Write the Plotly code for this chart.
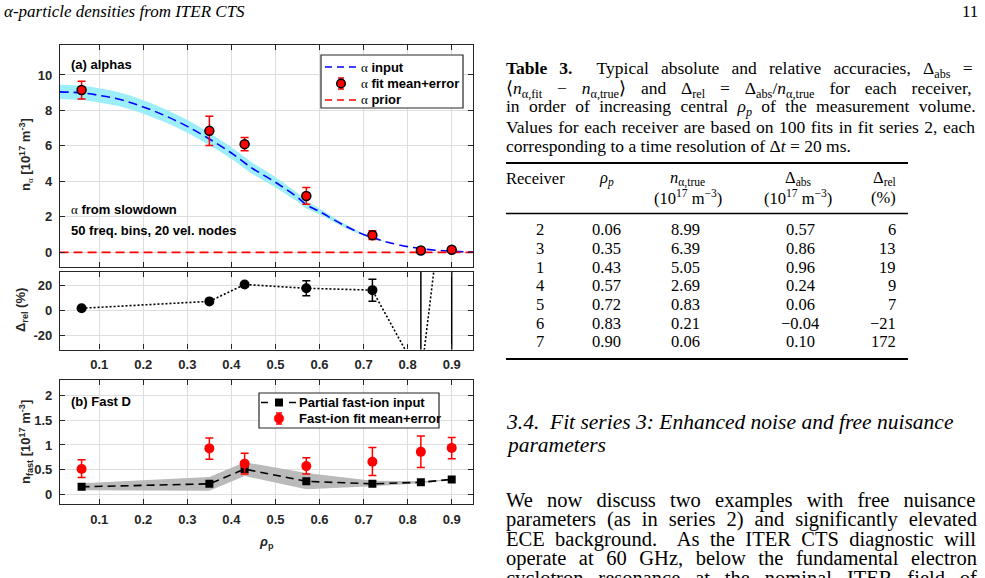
import re
import plotly.graph_objects as go

# ---------------- data ----------------
rho_curve = [0.01, 0.06, 0.10, 0.15, 0.20, 0.25, 0.30, 0.35, 0.40, 0.43, 0.45, 0.50,
             0.55, 0.57, 0.60, 0.65, 0.70, 0.72, 0.75, 0.80, 0.83, 0.85, 0.90, 0.95]
n_alpha_input = [9.05, 8.99, 8.85, 8.60, 8.20, 7.70, 7.10, 6.39, 5.60, 5.05, 4.70, 3.95,
                 3.10, 2.69, 2.30, 1.60, 1.00, 0.83, 0.60, 0.32, 0.21, 0.15, 0.06, 0.02]
n_alpha_band = [0.40, 0.40, 0.40, 0.39, 0.38, 0.37, 0.36, 0.34, 0.33, 0.32, 0.31, 0.29,
                0.24, 0.22, 0.17, 0.11, 0.05, 0.03, 0.01, 0.0, 0.0, 0.0, 0.0, 0.0]
n_alpha_prior = [0.0] * len(rho_curve)

rho_rx = [0.06, 0.35, 0.43, 0.57, 0.72, 0.83, 0.90]
n_alpha_fit = [9.15, 6.85, 6.10, 3.18, 0.97, 0.10, 0.15]
n_alpha_err = [0.50, 0.82, 0.37, 0.47, 0.25, 0.07, 0.08]

delta_rel = [2.0, 7.5, 21.0, 18.0, 16.5, -54.0, 150.0]
delta_rel_err = [1.0, 1.0, 1.5, 6.0, 8.8, 150.0, 250.0]

n_fast_input = [0.15, 0.21, 0.51, 0.26, 0.21, 0.24, 0.30]
n_fast_lo = [0.08, 0.07, 0.37, 0.10, 0.16, 0.22, 0.29]
n_fast_hi = [0.22, 0.35, 0.65, 0.43, 0.27, 0.26, 0.31]
n_fast_fit = [0.51, 0.93, 0.62, 0.57, 0.66, 0.86, 0.94]
n_fast_err_plus = [0.19, 0.21, 0.21, 0.17, 0.29, 0.32, 0.21]
n_fast_err_minus = [0.17, 0.22, 0.21, 0.16, 0.28, 0.32, 0.22]

x_tickvals = [0.1, 0.2, 0.3, 0.4, 0.5, 0.6, 0.7, 0.8, 0.9]
x_ticktext = ["0.1", "0.2", "0.3", "0.4", "0.5", "0.6", "0.7", "0.8", "0.9"]
ya_tickvals = [0, 2, 4, 6, 8, 10]
yr_tickvals = [-20, 0, 20]
yr_ticktext = ["-20", "0", "20"]
yb_tickvals = [0, 0.5, 1, 1.5, 2]
yb_ticktext = ["0", "0.5", "1", "1.5", "2"]

legend_a_labels = ["input", "fit mean+error", "prior"]
legend_b_labels = ["Partial fast-ion input", "Fast-ion fit mean+error"]

# table data
tbl_receiver = [2, 3, 1, 4, 5, 6, 7]
tbl_rho = [0.06, 0.35, 0.43, 0.57, 0.72, 0.83, 0.90]
tbl_ntrue = [8.99, 6.39, 5.05, 2.69, 0.83, 0.21, 0.06]
tbl_dabs = [0.57, 0.86, 0.96, 0.24, 0.06, -0.04, 0.10]
tbl_drel = [6, 13, 19, 9, 7, -21, 172]

# ---------------- helpers ----------------
W, H = 985, 578
def px(x): return x / W
def py(y): return 1 - y / H

SANS = "Liberation Sans"
SERIF = "Liberation Serif"
AXC = "#262626"
GRID = "#dedede"
ALPHA = "<span style=\"font-family:'Liberation Serif';font-weight:normal\">α</span>"

TM = {}
for c, v in zip("abcdefghijklmnopqrstuvwxyz",
                [444,500,444,500,444,333,500,500,278,278,500,278,778,500,500,500,500,333,389,278,500,500,722,500,500,444]):
    TM[c] = v
for c, v in zip("ABCDEFGHIJKLMNOPQRSTUVWXYZ",
                [722,667,667,722,611,556,722,722,333,389,722,611,889,722,722,556,722,667,556,611,722,722,944,722,722,611]):
    TM[c] = v
for c in "0123456789":
    TM[c] = 500
TM.update({" ": 250, "\u00a0": 250, ".": 250, ",": 250, ":": 278, ";": 278, "(": 333, ")": 333,
           "-": 333, "=": 564, "+": 564, "/": 278, "%": 833, "α": 600, "ρ": 560, "Δ": 680,
           "−": 600, "⟨": 400, "⟩": 400})

def text_width(s, size):
    w = 0.0
    scale = 1.0
    bold = False
    for tok in re.findall(r"<[^>]+>|[^<]+", s):
        if tok.startswith("<"):
            closing = tok.startswith("</")
            inner = tok.strip("</>")
            name = inner.split()[0].lower() if inner else ""
            if name in ("sub", "sup"):
                scale = 1.0 if closing else 0.7
            elif name == "b":
                bold = not closing
        else:
            for ch in tok:
                w += TM.get(ch, 500) / 1000.0 * scale * (1.06 if bold else 1.0)
    return w * size

def plain(s):
    return re.sub(r"<[^>]+>", "", s)

annotations = []
shapes = []

def text_ann(text, x, y, size, family=SERIF, xanchor="left", color="black", weight="normal",
             angle=0, yanchor="middle"):
    annotations.append(dict(text=text, x=px(x), y=py(y), xref="paper", yref="paper",
                            xanchor=xanchor, yanchor=yanchor, showarrow=False, textangle=angle,
                            borderpad=0, borderwidth=0,
                            font=dict(family=family, size=size, color=color, weight=weight)))

def justified(text, x0, x1, y, size):
    nat = text_width(text, size)
    p = plain(text)
    nsp = p.count(" ") + p.count("\u00a0")
    ws = (x1 - x0 - nat) / max(nsp, 1)
    text_ann("<span style='word-spacing:%.2fpx'>%s</span>" % (ws, text), x0, y, size)

def hline(x0, x1, y, color, width, dash="solid"):
    shapes.append(dict(type="line", xref="paper", yref="paper", x0=px(x0), x1=px(x1),
                       y0=py(y), y1=py(y), line=dict(color=color, width=width, dash=dash)))

def vline(x, y0, y1, color, width):
    shapes.append(dict(type="line", xref="paper", yref="paper", x0=px(x), x1=px(x),
                       y0=py(y0), y1=py(y1), line=dict(color=color, width=width)))

def rect(x0, y0, x1, y1, line_color, fill, lw=1):
    shapes.append(dict(type="rect", xref="paper", yref="paper", x0=px(x0), x1=px(x1),
                       y0=py(y1), y1=py(y0), line=dict(color=line_color, width=lw), fillcolor=fill))

def circle(cx, cy, r, fill, line_color, lw):
    shapes.append(dict(type="circle", xref="paper", yref="paper", x0=px(cx - r), x1=px(cx + r),
                       y0=py(cy + r), y1=py(cy - r), fillcolor=fill,
                       line=dict(color=line_color, width=lw)))

def errbar_glyph(cx, cy, half, color):
    vline(cx, cy - half, cy + half, color, 1.5)
    hline(cx - 3, cx + 3, cy - half, color, 1.5)
    hline(cx - 3, cx + 3, cy + half, color, 1.5)

# ---------------- figure ----------------
fig = go.Figure()

band_up = [a + b for a, b in zip(n_alpha_input, n_alpha_band)]
band_dn = [a - b for a, b in zip(n_alpha_input, n_alpha_band)]
fig.add_trace(go.Scatter(x=rho_curve, y=band_up, mode="lines", line=dict(width=0, shape="spline"),
                         hoverinfo="skip", xaxis="x", yaxis="y"))
fig.add_trace(go.Scatter(x=rho_curve, y=band_dn, mode="lines", line=dict(width=0, shape="spline"),
                         fill="tonexty", fillcolor="rgb(155,238,250)",
                         hoverinfo="skip", xaxis="x", yaxis="y"))
fig.add_trace(go.Scatter(x=rho_curve, y=n_alpha_input, mode="lines", name="α input",
                         line=dict(color="#0000ff", width=1.6, dash="9px,5px", shape="spline"),
                         xaxis="x", yaxis="y"))
fig.add_trace(go.Scatter(x=rho_curve, y=n_alpha_prior, mode="lines", name="α prior",
                         line=dict(color="#ff0000", width=1.6, dash="9px,5px"),
                         xaxis="x", yaxis="y"))
fig.add_trace(go.Scatter(x=rho_rx, y=n_alpha_fit, mode="markers", name="α fit mean+error",
                         marker=dict(color="#ff0000", size=9, line=dict(color="black", width=1.5)),
                         error_y=dict(type="data", array=n_alpha_err, color="#ff0000", thickness=1.5, width=4),
                         xaxis="x", yaxis="y"))

fig.add_trace(go.Scatter(x=rho_rx, y=delta_rel, mode="lines+markers",
                         line=dict(color="black", width=1.6, dash="2px,2px"),
                         marker=dict(color="black", size=10),
                         error_y=dict(type="data", array=delta_rel_err, color="black", thickness=1.5, width=4),
                         xaxis="x2", yaxis="y2"))

fig.add_trace(go.Scatter(x=rho_rx, y=n_fast_hi, mode="lines", line=dict(width=0),
                         hoverinfo="skip", xaxis="x3", yaxis="y3"))
fig.add_trace(go.Scatter(x=rho_rx, y=n_fast_lo, mode="lines", line=dict(width=0), fill="tonexty",
                         fillcolor="rgb(186,186,186)", hoverinfo="skip",
                         xaxis="x3", yaxis="y3"))
fig.add_trace(go.Scatter(x=rho_rx, y=n_fast_input, mode="lines+markers", name="Partial fast-ion input",
                         line=dict(color="black", width=1.6, dash="8px,5px"),
                         marker=dict(color="black", symbol="square", size=8),
                         xaxis="x3", yaxis="y3"))
fig.add_trace(go.Scatter(x=rho_rx, y=n_fast_fit, mode="markers", name="Fast-ion fit mean+error",
                         marker=dict(color="#ff0000", size=10),
                         error_y=dict(type="data", array=n_fast_err_plus, arrayminus=n_fast_err_minus,
                                      color="#ff0000", thickness=1.5, width=4),
                         xaxis="x3", yaxis="y3"))

tickfont = dict(family=SANS, size=13, color=AXC, weight="bold")
xcommon = dict(range=[0.011, 0.949], tickvals=x_tickvals, ticktext=x_ticktext, showgrid=True,
               gridcolor=GRID, gridwidth=1, zeroline=False, showline=True, linecolor=AXC, linewidth=1.3,
               mirror="ticks", ticks="inside", ticklen=5, tickwidth=1.3, tickcolor=AXC,
               tickfont=tickfont, domain=[px(60), px(473.3)], ticklabelstandoff=3)
ycommon = dict(showgrid=True, gridcolor=GRID, gridwidth=1, zeroline=False, showline=True,
               linecolor=AXC, linewidth=1.3, mirror="ticks", ticks="inside", ticklen=5,
               tickwidth=1.3, tickcolor=AXC, tickfont=tickfont, ticklabelstandoff=4)

fig.update_layout(
    width=W, height=H, margin=dict(l=0, r=0, t=0, b=0),
    paper_bgcolor="white", plot_bgcolor="white", showlegend=False,
    xaxis=dict(xcommon, anchor="y", showticklabels=False),
    xaxis2=dict(xcommon, anchor="y2"),
    xaxis3=dict(xcommon, anchor="y3"),
    yaxis=dict(ycommon, domain=[py(266.7), py(45)], range=[-0.81, 11.69], tickvals=ya_tickvals, anchor="x"),
    yaxis2=dict(ycommon, domain=[py(349.5), py(271.5)], range=[-31.0, 31.4], tickvals=yr_tickvals,
                ticktext=yr_ticktext, anchor="x2"),
    yaxis3=dict(ycommon, domain=[py(504), py(380)], range=[-0.2, 2.32], tickvals=yb_tickvals,
                ticktext=yb_ticktext, anchor="x3"),
)

# ---- legend (a), drawn as a MATLAB-style box ----
LF = 13
rect(321, 55, 463, 108, AXC, "white", 1.2)
la_y = [67, 83.5, 100]
hline(325, 360, la_y[0], "#0000ff", 1.6, "7px,5px")
errbar_glyph(341, la_y[1], 5.5, "#ff0000")
circle(341, la_y[1], 4.3, "#ff0000", "black", 1.5)
hline(325, 360, la_y[2], "#ff0000", 1.6, "7px,5px")
for lbl, yy in zip(legend_a_labels, la_y):
    text_ann(ALPHA + " " + lbl, 361, yy, LF, SANS, weight="bold")

# ---- legend (b) ----
rect(259, 393, 439, 428, AXC, "white", 1.2)
lb_y = [402.5, 418.5]
hline(261, 297, lb_y[0], "black", 1.6, "7px,7px")
shapes.append(dict(type="rect", xref="paper", yref="paper", x0=px(275), x1=px(283),
                   y0=py(lb_y[0] + 4), y1=py(lb_y[0] - 4), fillcolor="black", line=dict(width=0)))
errbar_glyph(279, lb_y[1], 5.5, "#ff0000")
circle(279, lb_y[1], 4.8, "#ff0000", "#ff0000", 0.5)
for lbl, yy in zip(legend_b_labels, lb_y):
    text_ann(lbl, 299, yy, LF, SANS, weight="bold")

# chart annotations
text_ann("(a) alphas", 71, 64, 13, SANS, weight="bold")
text_ann(ALPHA + " from slowdown", 71, 209, 13, SANS, weight="bold")
text_ann("50 freq. bins, 20 vel. nodes", 71, 230, 13, SANS, weight="bold")
text_ann("(b) Fast D", 71, 401, 13, SANS, weight="bold")
text_ann("n<sub>" + ALPHA + "</sub> [10<sup>17</sup> m<sup>-3</sup>]", 26, 155, 13, SANS,
         xanchor="center", weight="bold", angle=-90, color=AXC)
text_ann("Δ<sub>rel</sub> (%)", 21, 310, 13, SANS, xanchor="center", weight="bold", angle=-90, color=AXC)
text_ann("n<sub>fast</sub> [10<sup>17</sup> m<sup>-3</sup>]", 26, 442, 13, SANS,
         xanchor="center", weight="bold", angle=-90, color=AXC)
text_ann("<i>ρ</i><sub>p</sub>", 266, 542, 13, SANS, xanchor="center", weight="bold", color=AXC)

# page header
text_ann("<i>α-particle densities from ITER CTS</i>", 4, 12, 17)
text_ann("11", 978, 12, 17, xanchor="right")

# caption
XL, XR = 506, 977
CAP = 17.5
justified("<b>Table 3.</b>\u00a0 Typical absolute and relative accuracies, Δ<sub>abs</sub> =", XL, XR, 70, CAP)
justified("⟨<i>n</i><sub>α,fit</sub> − <i>n</i><sub>α,true</sub>⟩ and Δ<sub>rel</sub> = "
          "Δ<sub>abs</sub>/<i>n</i><sub>α,true</sub> for each receiver,", XL, XR, 89, CAP)
justified("in order of increasing central <i>ρ</i><sub><i>p</i></sub> of the measurement volume.", XL, XR, 108, CAP)
justified("Values for each receiver are based on 100 fits in fit series 2, each", XL, XR, 127, CAP)
text_ann("corresponding to a time resolution of Δ<i>t</i> = 20 ms.", XL, 146, CAP)

# table
TS = 16.5
for yy, lw in [(163, 2.2), (213.5, 1.3), (359, 2.2)]:
    hline(506, 908, yy, "black", lw)
text_ann("Receiver", 506, 178, TS)
text_ann("<i>ρ</i><sub><i>p</i></sub>", 606, 178, TS, xanchor="center")
text_ann("<i>n</i><sub>α,true</sub>", 687, 178, TS, xanchor="center")
text_ann("(10<sup>17</sup> m<sup>−3</sup>)", 688, 198, TS, xanchor="center")
text_ann("Δ<sub>abs</sub>", 798, 178, TS, xanchor="center")
text_ann("(10<sup>17</sup> m<sup>−3</sup>)", 798, 198, TS, xanchor="center")
text_ann("Δ<sub>rel</sub>", 896, 178, TS, xanchor="right")
text_ann("(%)", 896, 198, TS, xanchor="right")
row_y = [229.3, 248.3, 267.0, 285.5, 304.3, 323.0, 341.7]
def fmt_num(v, nd):
    s = ("%." + str(nd) + "f") % v
    return s.replace("-", "−")
for i, yy in enumerate(row_y):
    text_ann(str(tbl_receiver[i]), 539.5, yy, TS, xanchor="center")
    text_ann(fmt_num(tbl_rho[i], 2), 606.5, yy, TS, xanchor="center")
    text_ann(fmt_num(tbl_ntrue[i], 2), 685, yy, TS, xanchor="center")
    text_ann(fmt_num(tbl_dabs[i], 2), 800, yy, TS, xanchor="center")
    text_ann(fmt_num(tbl_drel[i], 0), 896, yy, TS, xanchor="right")

# section heading and paragraph
HS = 21.5
PS = 20.5
text_ann("<i>3.4.  Fit series 3: Enhanced noise and free nuisance</i>", XL, 421.5, HS)
text_ann("<i>parameters</i>", XL, 444.5, HS)
justified("We now discuss two examples with free nuisance", XL, XR, 500, PS)
justified("parameters (as in series 2) and significantly elevated", XL, XR, 519.5, PS)
justified("ECE background.\u00a0 As the ITER CTS diagnostic will", XL, XR, 539, PS)
justified("operate at 60 GHz, below the fundamental electron", XL, XR, 558.5, PS)
justified("cyclotron resonance at the nominal ITER field of", XL, XR, 578, PS)

fig.update_layout(annotations=annotations, shapes=shapes)
fig.write_html("out.html")
